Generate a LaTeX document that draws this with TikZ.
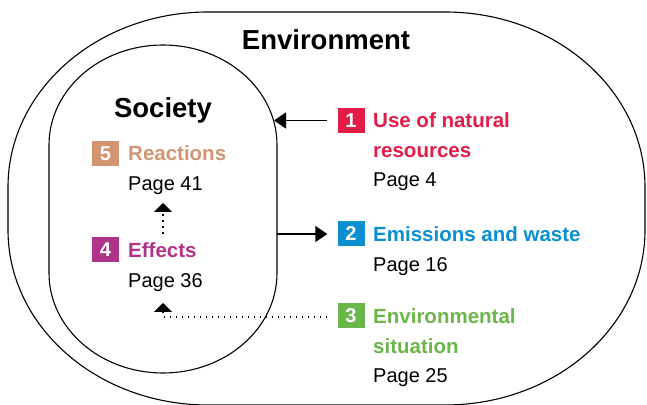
\documentclass[tikz,border=0pt]{standalone}
\usepackage{fontspec}
\setmainfont{Liberation Sans}
\usetikzlibrary{arrows.meta}
\definecolor{usecol}{HTML}{E31D48}
\definecolor{emicol}{HTML}{0A8FD1}
\definecolor{sitcol}{HTML}{6BB64A}
\definecolor{effcol}{HTML}{B0338A}
\definecolor{reacol}{HTML}{D39571}
\tikzset{
  numbox/.style={inner sep=0pt,minimum width=27pt,minimum height=25pt,text=white,
    font=\fontsize{20}{20}\selectfont\bfseries},
  headtxt/.style={inner sep=0pt,anchor=base west,font=\fontsize{20.5}{24}\selectfont\bfseries},
  pagetxt/.style={inner sep=0pt,anchor=base west,font=\fontsize{20}{24}\selectfont},
  bigtxt/.style={inner sep=0pt,font=\fontsize{27.5}{30}\selectfont\bfseries},
  flowarrow/.style={line width=1.4pt,-{Triangle[width=16pt,length=12pt]}},
  dotarrow/.style={line width=1.8pt,dash pattern=on 1.6pt off 4.4pt,
    -{Triangle[width=18pt,length=9pt]}}
}
\begin{document}
\begin{tikzpicture}[x=1pt,y=1pt]
  \useasboundingbox (0,0) rectangle (647,404);
  \clip (0,0) rectangle (647,404);
  \fill[white] (0,0) rectangle (647,404);
  % environment and society
  \draw[line width=1.1pt] (208,392) -- (445,392)
    arc[start angle=90,end angle=0,x radius=200,y radius=175] -- (645,174)
    arc[start angle=0,end angle=-90,x radius=200,y radius=175] -- (208,-1)
    arc[start angle=270,end angle=180,x radius=200,y radius=175] -- (8,217)
    arc[start angle=180,end angle=90,x radius=200,y radius=175] -- cycle;
  \draw[line width=1.1pt] (49,259)
    arc[start angle=180,end angle=0,x radius=114,y radius=100] -- (277,131)
    arc[start angle=0,end angle=-180,x radius=114,y radius=100] -- cycle;
  \node[bigtxt] (env) at (326,364) {Environment};
  \node[bigtxt,anchor=base] (soc) at (163,286) {Society};
  % items
  \node[numbox,fill=usecol] (n1) at (351,283.5) {1};
  \node[headtxt,text=usecol] (h1) at (373,276) {Use of natural};
  \node[headtxt,text=usecol] (h1b) at ([yshift=-29.5pt]h1.base west) {resources};
  \node[pagetxt] (p1) at ([yshift=-29.5pt]h1b.base west) {Page 4};
  \node[numbox,fill=emicol] (n2) at (351,170) {2};
  \node[headtxt,text=emicol] (h2) at (373,162.5) {Emissions and waste};
  \node[pagetxt] (p2) at ([yshift=-30pt]h2.base west) {Page 16};
  \node[numbox,fill=sitcol] (n3) at (351,88) {3};
  \node[headtxt,text=sitcol] (h3) at (373,80.5) {Environmental};
  \node[headtxt,text=sitcol] (h3b) at ([yshift=-29.5pt]h3.base west) {situation};
  \node[pagetxt] (p3) at ([yshift=-29.5pt]h3b.base west) {Page 25};
  \node[numbox,fill=reacol] (n5) at (105.5,250.5) {5};
  \node[headtxt,text=reacol] (h5) at (128,243) {Reactions};
  \node[pagetxt] (p5) at ([yshift=-30pt]h5.base west) {Page 41};
  \node[numbox,fill=effcol] (n4) at (105.5,154) {4};
  \node[headtxt,text=effcol] (h4) at (128,146.5) {Effects};
  \node[pagetxt] (p4) at ([yshift=-30pt]h4.base west) {Page 36};
  % connectors
  \coordinate (s1) at (274,283.5);
  \coordinate (s2) at (277,170);
  \coordinate (e3) at (163,87);
  \coordinate (e4) at (163,170);
  \draw[flowarrow] ([xshift=-10pt]n1.west) -- (s1);
  \draw[flowarrow] (s2) -- ([xshift=-10pt]n2.west);
  \draw[dotarrow] ([xshift=-10pt]n3.west |- e3) -- (e3) -- ++(0,14);
  \draw[dotarrow] (e4) -- ++(0,31);
\end{tikzpicture}
\end{document}
